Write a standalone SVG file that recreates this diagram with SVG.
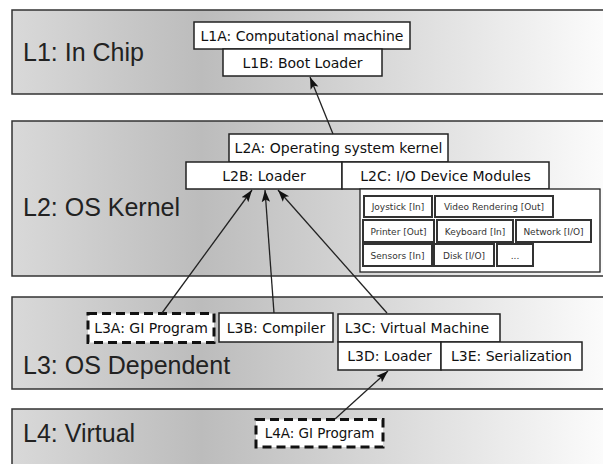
<svg xmlns="http://www.w3.org/2000/svg" width="603" height="464" viewBox="0 0 603 464">
<defs>
<linearGradient id="bandGrad" gradientUnits="userSpaceOnUse" x1="12" y1="0" x2="603" y2="0">
<stop offset="0" stop-color="#d9d9d9"/>
<stop offset="0.32" stop-color="#bcbcbc"/>
<stop offset="1" stop-color="#fbfbfb"/>
</linearGradient>
<marker id="arrow" markerUnits="userSpaceOnUse" markerWidth="14" markerHeight="10" refX="12" refY="5" orient="auto">
<path d="M0,0.8 L12,5 L0,9.2 L2.5,5 Z" fill="#111"/>
</marker>
<style>
.band{fill:url(#bandGrad);stroke:#333;stroke-width:1.5}
.blabel{font-family:"Liberation Sans",Arial,sans-serif;font-size:25px;fill:#222}
.box{fill:#fff;stroke:#222;stroke-width:1.5}
.dbox{fill:#fff;stroke:#111;stroke-width:3;stroke-dasharray:9,5}
.t{font-family:"DejaVu Sans",Verdana,sans-serif;font-size:14px;fill:#111;text-anchor:middle}
.dev{fill:#fff;stroke:#222;stroke-width:1.3}
.sbox{fill:#fff;stroke:#333;stroke-width:2}
.st{font-family:"DejaVu Sans",Verdana,sans-serif;font-size:9px;fill:#333;text-anchor:middle}
.conn{stroke:#222;stroke-width:1.3;fill:none;marker-end:url(#arrow)}
</style>
</defs>

<g id="band-L1">
<rect class="band" x="12" y="10" width="620" height="84"/>
<text class="blabel" x="23" y="61">L1: In Chip</text>
</g>
<g id="band-L2">
<rect class="band" x="12" y="121" width="620" height="155"/>
<text class="blabel" x="23" y="216">L2: OS Kernel</text>
</g>
<g id="band-L3">
<rect class="band" x="12" y="297" width="620" height="92"/>
<text class="blabel" x="23" y="374">L3: OS Dependent</text>
</g>
<g id="band-L4">
<rect class="band" x="12" y="409" width="620" height="70"/>
<text class="blabel" x="23" y="442">L4: Virtual</text>
</g>

<g id="L1A">
<rect class="box" x="194" y="22" width="216" height="27"/>
<text class="t" x="302" y="40.5">L1A: Computational machine</text>
</g>
<g id="L1B">
<rect class="box" x="223" y="49" width="159" height="27"/>
<text class="t" x="302.5" y="67.5">L1B: Boot Loader</text>
</g>

<g id="L2A">
<rect class="box" x="229" y="134" width="219" height="28"/>
<text class="t" x="338.5" y="153">L2A: Operating system kernel</text>
</g>
<g id="L2B">
<rect class="box" x="186" y="162" width="156" height="27"/>
<text class="t" x="264" y="180.5">L2B: Loader</text>
</g>
<g id="L2C">
<rect class="box" x="342" y="162" width="207" height="27"/>
<text class="t" x="445.5" y="180.5">L2C: I/O Device Modules</text>
</g>

<g id="devices">
<rect class="dev" x="360" y="189" width="240" height="83"/>
<g id="dev-joystick"><rect class="sbox" x="364" y="196" width="68" height="21"/><text class="st" x="398" y="210">Joystick [In]</text></g>
<g id="dev-video"><rect class="sbox" x="435" y="196" width="118" height="21"/><text class="st" x="494" y="210">Video Rendering [Out]</text></g>
<g id="dev-printer"><rect class="sbox" x="363" y="220" width="71" height="22"/><text class="st" x="398.5" y="234.5">Printer [Out]</text></g>
<g id="dev-keyboard"><rect class="sbox" x="437" y="220" width="76" height="22"/><text class="st" x="475" y="234.5">Keyboard [In]</text></g>
<g id="dev-network"><rect class="sbox" x="516" y="220" width="75" height="22"/><text class="st" x="553.5" y="234.5">Network [I/O]</text></g>
<g id="dev-sensors"><rect class="sbox" x="363" y="244" width="69" height="22"/><text class="st" x="397.5" y="258.5">Sensors [In]</text></g>
<g id="dev-disk"><rect class="sbox" x="434" y="244" width="60" height="22"/><text class="st" x="464" y="258.5">Disk [I/O]</text></g>
<g id="dev-more"><rect class="sbox" x="497" y="244" width="36" height="22"/><text class="st" x="515" y="258.5">...</text></g>
</g>

<g id="L3A">
<rect class="dbox" x="88" y="313.5" width="126" height="29"/>
<text class="t" x="151" y="333">L3A: GI Program</text>
</g>
<g id="L3B">
<rect class="box" x="219" y="313" width="114" height="29"/>
<text class="t" x="276" y="332.5">L3B: Compiler</text>
</g>
<g id="L3C">
<rect class="box" x="338" y="314" width="162" height="28"/>
<text class="t" x="417" y="333">L3C: Virtual Machine</text>
</g>
<g id="L3D">
<rect class="box" x="338" y="342" width="103" height="28"/>
<text class="t" x="389.5" y="361">L3D: Loader</text>
</g>
<g id="L3E">
<rect class="box" x="441" y="342" width="141" height="28"/>
<text class="t" x="511.5" y="361">L3E: Serialization</text>
</g>

<g id="L4A">
<rect class="dbox" x="256" y="419.5" width="127" height="27.5"/>
<text class="t" x="319.5" y="438" style="font-size:13.5px">L4A: GI Program</text>
</g>

<g id="connectors">
<line class="conn" x1="333" y1="134" x2="310" y2="77"/>
<line class="conn" x1="162" y1="313" x2="252" y2="190"/>
<line class="conn" x1="274" y1="313" x2="265" y2="190"/>
<line class="conn" x1="387" y1="313" x2="278" y2="190"/>
<line class="conn" x1="335" y1="419" x2="388" y2="371"/>
</g>
</svg>
